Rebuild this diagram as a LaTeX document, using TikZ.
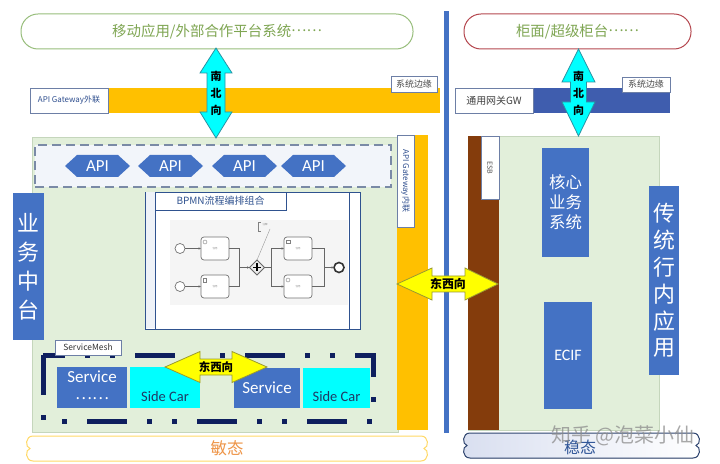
\documentclass[tikz,border=0pt]{standalone}
\usepackage{fontspec}
\setmainfont{Noto Sans CJK SC}
\newfontfamily\lat{Carlito}
\usetikzlibrary{shapes.geometric,arrows.meta}

\definecolor{cblue}{HTML}{4472C4}
\definecolor{corange}{HTML}{FFC000}
\definecolor{cgreenbg}{HTML}{E2EFDA}
\definecolor{cpanelline}{HTML}{C5D6BC}
\definecolor{cbrown}{HTML}{843C0C}
\definecolor{ccyan}{HTML}{00FFFF}
\definecolor{cyel}{HTML}{FFFF00}
\definecolor{cnavy}{HTML}{0E1F5E}
\definecolor{cgw}{HTML}{3F5DAE}
\definecolor{ctxtgreen}{HTML}{7FA653}
\definecolor{cgreenline}{HTML}{98BE7C}
\definecolor{credline}{HTML}{B5474F}
\definecolor{clabel}{HTML}{2F4F8F}
\definecolor{clabelline}{HTML}{6D7FA6}
\definecolor{cside}{HTML}{1F3864}
\definecolor{cbpmn}{HTML}{2F528F}
\definecolor{cbpmnstrip}{HTML}{EEF2F8}
\definecolor{cdash}{HTML}{7A8AA6}
\definecolor{capibg}{HTML}{F2F5FA}
\definecolor{cteal}{HTML}{2A93A3}
\definecolor{colive}{HTML}{9A9A30}
\definecolor{cmin}{HTML}{EE9548}
\definecolor{cminline}{HTML}{FFD966}
\definecolor{cwen}{HTML}{2F5597}
\definecolor{cwenline}{HTML}{2F4570}
\definecolor{cwenfill}{HTML}{D9DFF0}

\newcommand\mybox[7]{\node[#1,minimum width={((#5)-(#3))*1bp},minimum height={((#6)-(#4))*1bp}] (#2) at ({((#3)+(#5))/2},{((#4)+(#6))/2}) {#7};}
\newcommand\middots{\raisebox{0.3em}{……}}

\begin{document}
\begin{tikzpicture}[x=1bp,y=-1bp,
  base/.style={inner sep=0pt,outer sep=0pt,align=center},
  topbox/.style={base,fill=white,rounded corners=17bp,line width=1bp,text=ctxtgreen,font=\fontsize{14.5}{17}\selectfont},
  tag/.style={base,fill=white,draw=clabelline,line width=0.6bp,text=clabel,font=\fontsize{8}{9}\selectfont},
  edgetag/.style={base,fill=white,draw=clabelline,line width=0.6bp,text=black!70,font=\fontsize{9}{10}\selectfont},
  bar/.style={base},
  panel/.style={base,fill=cgreenbg,draw=cpanelline,line width=0.6bp},
  bluebox/.style={base,fill=cblue,text=white},
  sidecar/.style={base,fill=ccyan},
  sidetext/.style={base,text=cside,font=\lat\fontsize{14.5}{17}\selectfont},
  arrtext/.style={base,font=\bfseries\fontsize{11}{17}\selectfont},
  flow/.style={draw=black!60,line width=0.7bp,-{Latex[length=2.5bp,width=2.5bp]}},
  bline/.style={draw=black!60,line width=0.7bp},
  task/.style={base,draw=black!55,line width=0.7bp,fill=white,rounded corners=3bp,minimum width=28bp,minimum height=23bp,font=\fontsize{2.5}{3}\selectfont,text=black!50},
  ev/.style={base,circle,draw=black!55,line width=0.7bp,fill=white,minimum size=10bp},
]
\useasboundingbox (0,0) rectangle (720,464);
\fill[white] (0,0) rectangle (720,464);

% ---------- top systems ----------
\mybox{topbox,draw=cgreenline}{tl}{21}{14}{413}{49}{移动应用/外部合作平台系统\middots}
\mybox{topbox,draw=credline}{tr}{464}{14}{691}{49}{柜面/超级柜台\middots}

% ---------- divider ----------
\mybox{bar,fill=cblue}{vline}{444}{11}{449}{433}{}

% ---------- left gateway bar ----------
\mybox{bar,fill=corange}{obar}{30}{88}{440}{113}{}
\mybox{tag}{gwout}{30}{88}{108}{113}{API Gateway外联}
\mybox{edgetag}{edge1}{391}{76}{437}{92}{系统边缘}

% ---------- right gateway bar ----------
\mybox{bar,fill=cgw}{gwbar}{455}{88}{670}{113}{}
\mybox{tag,text=black!75,font=\fontsize{10}{11}\selectfont}{gwlab}{455}{88}{533}{113}{通用网关GW}
\mybox{edgetag}{edge2}{622}{77}{670}{92}{系统边缘}

% ---------- left panel ----------
\mybox{panel}{lpanel}{32}{137}{398}{432}{}
\mybox{bar,fill=corange}{ibar}{397}{135}{428}{430}{}
\node[tag,rotate=-90,minimum width=92bp,minimum height=17bp] (gwin) at (405.5,181) {API Gateway内联};

\mybox{base,fill=capibg,draw=cdash,line width=1.2bp,dash pattern=on 9bp off 5bp}{apibox}{35}{145}{391}{187}{}
\foreach \i/\cx in {1/97.5,2/170.5,3/244.5,4/313.5}{
  \fill[cblue] (\cx-32.5,166) -- (\cx-20.5,155) -- (\cx+20.5,155) -- (\cx+32.5,166) -- (\cx+20.5,177) -- (\cx-20.5,177) -- cycle;
  \node[base,text=white,font=\lat\fontsize{17}{20}\selectfont] (api\i) at (\cx,166) {API};
}

\mybox{bluebox,font=\fontsize{22}{29}\selectfont}{ywzt}{13}{193}{44}{340}{业\\务\\中\\台}

% ---------- BPMN ----------
\mybox{base,fill=white,draw=cbpmn,line width=0.9bp}{bpmn}{145}{192}{360}{329}{}
\fill[cbpmnstrip] (145.5,192.5) rectangle (155,328.5);
\draw[cbpmn,line width=0.8bp] (155,192) -- (155,329);
\draw[cbpmn,line width=0.8bp] (349,192) -- (349,329);
\mybox{base,fill=white,draw=cbpmn,line width=0.8bp,text=cbpmn,font=\fontsize{10}{11}\selectfont}{bpmntitle}{155}{192}{286}{210}{BPMN流程编排组合}
\fill[black!4] (170,220) rectangle (348,305);

\node[ev] (s1) at (180,248.5) {};
\node[ev] (s2) at (180,286.5) {};
\node[task] (t1) at (215,248.5) {任务};
\node[task] (t2) at (215,286.5) {任务};
\node[task] (t3) at (298,248.5) {任务};
\node[task] (t4) at (298,286.5) {任务};
\node[base,diamond,draw=black!60,line width=0.8bp,fill=black!8,minimum width=15bp,minimum height=15bp] (gw) at (257,267.5) {};
\draw[line width=1.6bp] (253,267.5) -- (261,267.5);
\draw[line width=1.6bp] (257,263.5) -- (257,271.5);
\node[ev,line width=1.6bp,draw=black!80] (e) at (339,267.5) {};
\coordinate (j1) at (239,267.5);
\coordinate (j2) at (271,267.5);
\coordinate (j3) at (324,267.5);
\draw[flow] (s1) -- (t1);
\draw[flow] (s2) -- (t2);
\draw[bline] (t1.east) -| (j1);
\draw[bline] (t2.east) -| (j1);
\draw[flow] (j1) -- (gw);
\draw[bline] (gw) -- (j2);
\draw[flow] (j2) |- (t3.west);
\draw[flow] (j2) |- (t4.west);
\draw[bline] (t3.east) -| (j3);
\draw[bline] (t4.east) -| (j3);
\draw[flow] (j3) -- (e);
\draw[black!50,line width=0.5bp] (261,222) -- (258,222) -- (258,231) -- (261,231);
\node[base,font=\fontsize{2.5}{3}\selectfont,text=black!50] (ann) at (265,225) {注释};
\draw[black!40,line width=0.4bp] (270,229) -- (gw.north);
\draw[black!50,line width=0.4bp] (205,242) circle (2);
\draw[black!50,line width=0.4bp] (288,280) circle (2);
\draw[black!50,line width=0.4bp] (203,278) rectangle (206,282);
\draw[black!50,line width=0.4bp] (286,240) rectangle (290,243);

% ---------- service mesh ----------
\draw[cnavy,line width=5bp,dash pattern=on 40bp off 20bp on 5bp off 20bp on 5bp off 20bp] (43,355) rectangle (373,421);
\mybox{tag,text=black!80,font=\fontsize{8.5}{9}\selectfont}{smlabel}{55}{340}{121}{355}{ServiceMesh}

\mybox{bluebox,font=\fontsize{16}{22}\selectfont}{svc1}{57}{367}{127}{408}{{\lat\fontsize{17}{22}\selectfont Service}\\\middots}
\mybox{sidecar}{sc1}{130}{367}{200}{408}{}
\node[sidetext] (sc1t) at (165,397) {Side Car};
\mybox{bluebox,font=\lat\fontsize{17}{20}\selectfont}{svc2}{234}{368}{300}{408}{Service}
\mybox{sidecar}{sc2}{303}{368}{370}{408}{}
\node[sidetext] (sc2t) at (336.5,397) {Side Car};

\filldraw[fill=cyel,draw=colive,line width=0.8bp] (165,367) -- (200,351.5) -- (200,359) -- (232,359) -- (232,351.5) -- (267,367) -- (232,382.5) -- (232,375) -- (200,375) -- (200,382.5) -- cycle;
\node[arrtext,font=\bfseries\fontsize{11.5}{13}\selectfont] (ew1) at (216,367) {东西向};

% ---------- agile bottom ----------
\filldraw[fill=white,draw=cminline,line width=1bp] (33,436) -- (421,436) .. controls (429,436) and (429,447.5) .. (424,448.5) .. controls (429,449.5) and (429,461) .. (421,461) -- (33,461) .. controls (25,461) and (25,449.5) .. (30,448.5) .. controls (25,447.5) and (25,436) .. (33,436) -- cycle;
\node[base,text=cmin,font=\fontsize{16.5}{18}\selectfont] (mintai) at (227,448) {敏态};

% ---------- right panel ----------
\mybox{panel}{rpanel}{468}{136}{659}{430}{}
\mybox{bar,fill=cbrown}{esb}{468}{136}{499}{430}{}
\node[tag,rotate=-90,minimum width=63bp,minimum height=18bp,text=black!70,font=\fontsize{7}{8}\selectfont] (esbl) at (490,167.5) {ESB};
\mybox{bluebox,font=\fontsize{16.5}{20}\selectfont}{core}{542}{148}{589}{257}{核心\\业务\\系统}
\mybox{bluebox,font=\lat\fontsize{16}{19}\selectfont}{ecif}{544}{302}{592}{409}{ECIF}
\mybox{bluebox,font=\fontsize{22}{27}\selectfont}{ctyy}{649}{186}{679}{375}{传\\统\\行\\内\\应\\用}

% ---------- stable bottom ----------
\filldraw[left color=cwenfill,right color=white,draw=cwenline,line width=1bp] (470,433) -- (693,433) .. controls (701,433) and (701,444.5) .. (696,445.5) .. controls (701,446.5) and (701,458) .. (693,458) -- (470,458) .. controls (462,458) and (462,446.5) .. (467,445.5) .. controls (462,444.5) and (462,433) .. (470,433) -- cycle;
\node[base,text=cwen,font=\fontsize{16}{18}\selectfont] (wentai) at (580,447) {稳态};

% ---------- north-south arrows ----------
\filldraw[fill=ccyan,draw=cteal,line width=0.8bp] (216,48) -- (232,73) -- (225,73) -- (225,112) -- (232,112) -- (216,138) -- (200,112) -- (207,112) -- (207,73) -- (200,73) -- cycle;
\node[arrtext] (ns1) at (216,93) {南\\北\\向};
\filldraw[fill=ccyan,draw=cteal,line width=0.8bp] (578.5,49) -- (595,82) -- (586.5,82) -- (586.5,102) -- (595,102) -- (578.5,136) -- (562,102) -- (570.5,102) -- (570.5,82) -- (562,82) -- cycle;
\node[arrtext] (ns2) at (578.5,93) {南\\北\\向};

% ---------- east-west arrow ----------
\filldraw[fill=cyel,draw=colive,line width=0.8bp] (397,284) -- (432,268) -- (432,276) -- (465,276) -- (465,268) -- (498,284) -- (465,300) -- (465,292) -- (432,292) -- (432,300) -- cycle;
\node[arrtext,font=\bfseries\fontsize{12}{13}\selectfont] (ew2) at (448,284) {东西向};

% ---------- watermark ----------
\node[base,text=black!45,opacity=0.75,font=\fontsize{20}{24}\selectfont] (wm) at (623,436) {知乎 @泡菜小仙};
\end{tikzpicture}
\end{document}
